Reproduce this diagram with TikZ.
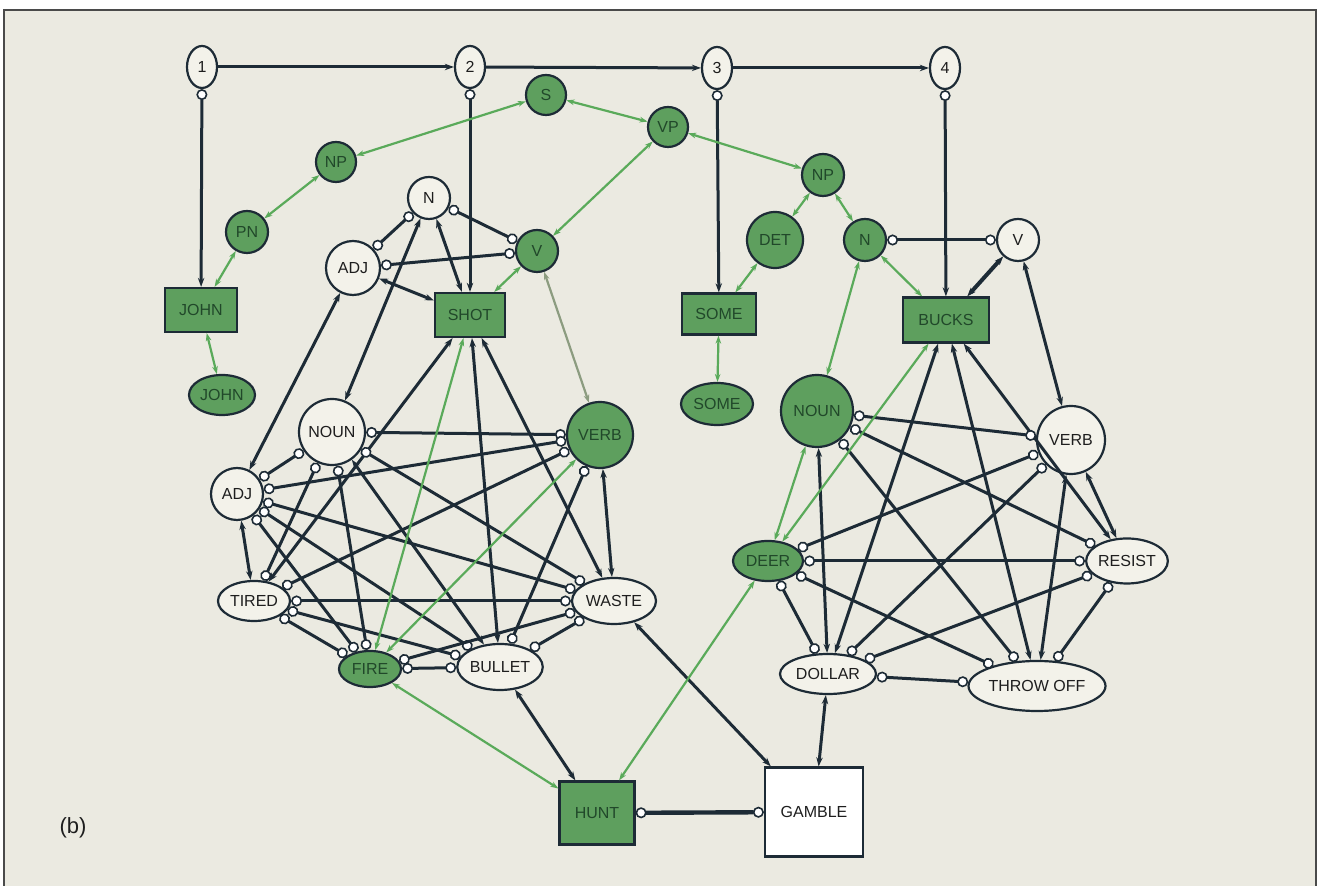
\documentclass[tikz,border=0pt]{standalone}
\usepackage{fontspec}
\setmainfont{Liberation Sans}
\usetikzlibrary{shapes.geometric,arrows.meta}
\definecolor{bg}{HTML}{EBEAE1}
\definecolor{gn}{HTML}{5E9F5E}
\definecolor{gt}{HTML}{21482A}
\definecolor{dk}{HTML}{1D2B36}
\definecolor{wf}{HTML}{F3F2EA}
\definecolor{wt}{HTML}{1E1E1E}
\definecolor{gl}{HTML}{5AAA5A}
\definecolor{gg}{HTML}{8C9C80}
\definecolor{fr}{HTML}{4A4A4A}
\begin{document}
\begin{tikzpicture}[x=0.5pt,y=-0.5pt,
  base/.style={draw=dk, line width=1.1pt, inner sep=0pt, font=\fontsize{8}{9}\selectfont},
  gc/.style={base, circle, fill=gn, text=gt, minimum size=#1},
  wc/.style={base, circle, fill=wf, text=wt, minimum size=#1},
  ge/.style n args={2}{base, ellipse, fill=gn, text=gt, minimum width=#1, minimum height=#2},
  we/.style n args={2}{base, ellipse, fill=wf, text=wt, minimum width=#1, minimum height=#2},
  gb/.style n args={2}{base, rectangle, fill=gn, text=gt, minimum width=#1, minimum height=#2},
  wb/.style n args={2}{base, rectangle, fill=white, text=wt, minimum width=#1, minimum height=#2},
  dx/.style={draw=dk, line width=1.5pt, {Stealth[length=4.5pt,width=3.2pt]}-{Stealth[length=4.5pt,width=3.2pt]}},
  da/.style={draw=dk, line width=1.5pt, -{Stealth[length=4.5pt,width=3.2pt]}},
  ca/.style={draw=dk, line width=1.5pt, {Circle[length=5.5pt,width=5.5pt,fill=white,line width=0.8pt]}-{Stealth[length=4.5pt,width=3.2pt]}},
  ix/.style={draw=dk, line width=1.5pt, {Circle[length=5.5pt,width=5.5pt,fill=white,line width=0.8pt]}-{Circle[length=5.5pt,width=5.5pt,fill=white,line width=0.8pt]}},
  gx/.style={draw=gl, line width=1.1pt, {Stealth[length=4pt,width=2.8pt]}-{Stealth[length=4pt,width=2.8pt]}},
]
\useasboundingbox (0,0) rectangle (1324,886);
\fill[white] (0,0) rectangle (1324,886);
\fill[bg] (4,10) rectangle (1316,886);
\draw[fr, line width=0.8pt] (4,886) -- (4,10) -- (1316,10) -- (1316,886);

% top sequence
\node[we={15pt}{21pt}] (t1) at (202,67) {1};
\node[we={15pt}{21pt}] (t2) at (470,67) {2};
\node[we={15pt}{21pt}] (t3) at (717,68) {3};
\node[we={15pt}{21pt}] (t4) at (945,68) {4};

% syntax nodes
\node[gc=20pt] (S) at (546,95) {S};
\node[gc=20pt] (VP) at (668,127) {VP};
\node[gc=20pt] (NPL) at (336,162) {NP};
\node[gc=21pt] (PN) at (247,232) {PN};
\node[wc=21pt] (NL) at (429,198) {N};
\node[wc=27pt] (ADJU) at (353,268) {ADJ};
\node[gc=21pt] (VL) at (537,251) {V};
\node[gc=21pt] (NPR) at (823,175) {NP};
\node[gc=28pt] (DET) at (775,240) {DET};
\node[gc=21pt] (NR) at (865,240) {N};
\node[wc=21pt] (VR) at (1018,240) {V};

% word boxes
\node[gb={36pt}{22pt}] (JOHNB) at (201,310) {JOHN};
\node[gb={35pt}{22pt}] (SHOT) at (470,315) {SHOT};
\node[gb={37pt}{20.5pt}] (SOMEB) at (719,314) {SOME};
\node[gb={43pt}{22.5pt}] (BUCKS) at (946,320) {BUCKS};
\node[ge={33pt}{20pt}] (JOHNE) at (222,395) {JOHN};
\node[ge={36pt}{21pt}] (SOMEE) at (717,404) {SOME};

% left cluster
\node[wc=33pt] (NOUNL) at (332,432) {NOUN};
\node[gc=33pt] (VERBL) at (600,435) {VERB};
\node[wc=26pt] (ADJL) at (237,494) {ADJ};
\node[we={36pt}{20pt}] (TIRED) at (254,601) {TIRED};
\node[we={42pt}{23pt}] (WASTE) at (614,601) {WASTE};
\node[ge={31pt}{18pt}] (FIRE) at (370,669) {FIRE};
\node[we={42pt}{23pt}] (BULLET) at (500,667) {BULLET};

% right cluster
\node[gc=36pt] (NOUNR) at (817,411) {NOUN};
\node[wc=34pt] (VERBR) at (1071,440) {VERB};
\node[ge={35pt}{20pt}] (DEER) at (768,561) {DEER};
\node[we={39pt}{22.5pt}] (RESIST) at (1127,561) {RESIST};
\node[we={48pt}{20pt}] (DOLLAR) at (828,674) {DOLLAR};
\node[we={67pt}{25pt}] (THROW) at (1037,686) {THROW OFF};

% bottom
\node[gb={37.5pt}{31.5pt}] (HUNT) at (597,813) {HUNT};
\node[wb={49pt}{44.5pt}] (GAMBLE) at (814,812) {GAMBLE};
\node[font=\fontsize{11}{12}\selectfont, text=wt] (lab) at (73,828) {(b)};

% top arrows
\draw[da] (t1) -- (t2);
\draw[da] (t2) -- (t3);
\draw[da] (t3) -- (t4);
\draw[ca] (t1) -- (JOHNB);
\draw[ca] (t2) -- (SHOT);
\draw[ca] (t3) -- (SOMEB);
\draw[ca] (t4) -- (BUCKS);

% green links
\draw[gx] (S) -- (NPL);
\draw[gx] (S) -- (VP);
\draw[gx] (NPL) -- (PN);
\draw[gx] (PN) -- (JOHNB);
\draw[gx] (JOHNB) -- (JOHNE);
\draw[gx] (VP) -- (VL);
\draw[gx] (VP) -- (NPR);
\draw[gx] (VL) -- (SHOT);
\draw[gx, draw=gg] (VL) -- (VERBL);
\draw[gx] (NPR) -- (DET);
\draw[gx] (NPR) -- (NR);
\draw[gx] (DET) -- (SOMEB);
\draw[gx] (SOMEB) -- (SOMEE);
\draw[gx] (NR) -- (BUCKS);
\draw[gx] (NR) -- (NOUNR);

% dark excitatory links
\draw[dx] (NL) -- (SHOT);
\draw[dx] (ADJU) -- (SHOT);
\draw[dx] (NL) -- (NOUNL);
\draw[dx] (ADJU) -- (ADJL);
\draw[dx] (SHOT) -- (TIRED);
\draw[dx] (SHOT) -- (BULLET);
\draw[dx] (SHOT) -- (WASTE);
\draw[dx] (NOUNL) -- (BULLET);
\draw[dx] (VERBL) -- (WASTE);
\draw[dx] (ADJL) -- (TIRED);
\draw[dx] (BULLET) -- (HUNT);
\draw[dx] (WASTE) -- (GAMBLE);
\draw[dx] (DOLLAR) -- (GAMBLE);
\draw[dx, line width=2pt] (BUCKS) -- (VR);
\draw[dx] (VR) -- (VERBR);
\draw[dx] (BUCKS) -- (DOLLAR);
\draw[dx] (BUCKS) -- (THROW);
\draw[dx] (BUCKS) -- (RESIST);
\draw[dx] (NOUNR) -- (DOLLAR);
\draw[dx] (VERBR) -- (RESIST);
\draw[dx] (VERBR) -- (THROW);

% inhibitory links, syntax level
\draw[ix] (NL) -- (ADJU);
\draw[ix] (NL) -- (VL);
\draw[ix] (ADJU) -- (VL);
\draw[ix] (NR) -- (VR);
\draw[ix, line width=2.2pt] (HUNT) -- (GAMBLE);

% inhibitory links, left cluster
\draw[ix] (NOUNL) -- (VERBL);
\draw[ix] (NOUNL) -- (ADJL);
\draw[ix] (VERBL) -- (ADJL);
\draw[ix] (NOUNL) -- (TIRED);
\draw[ix] (NOUNL) -- (WASTE);
\draw[ix] (NOUNL) -- (FIRE);
\draw[ix] (VERBL) -- (TIRED);
\draw[ix] (VERBL) -- (BULLET);
\draw[ix] (ADJL) -- (WASTE);
\draw[ix] (ADJL) -- (FIRE);
\draw[ix] (ADJL) -- (BULLET);
\draw[ix] (TIRED) -- (WASTE);
\draw[ix] (TIRED) -- (FIRE);
\draw[ix] (TIRED) -- (BULLET);
\draw[ix] (WASTE) -- (FIRE);
\draw[ix] (WASTE) -- (BULLET);
\draw[ix] (FIRE) -- (BULLET);

% inhibitory links, right cluster
\draw[ix] (NOUNR) -- (VERBR);
\draw[ix] (NOUNR) -- (RESIST);
\draw[ix] (NOUNR) -- (THROW);
\draw[ix] (VERBR) -- (DEER);
\draw[ix] (VERBR) -- (DOLLAR);
\draw[ix] (DEER) -- (RESIST);
\draw[ix] (DEER) -- (DOLLAR);
\draw[ix] (DEER) -- (THROW);
\draw[ix] (RESIST) -- (DOLLAR);
\draw[ix] (RESIST) -- (THROW);
\draw[ix] (DOLLAR) -- (THROW);

% green links through the clusters
\draw[gx] (SHOT) -- (FIRE);
\draw[gx] (VERBL) -- (FIRE);
\draw[gx] (BUCKS) -- (DEER);
\draw[gx] (NOUNR) -- (DEER);
\draw[gx] (FIRE) -- (HUNT);
\draw[gx] (DEER) -- (HUNT);
\end{tikzpicture}
\end{document}
